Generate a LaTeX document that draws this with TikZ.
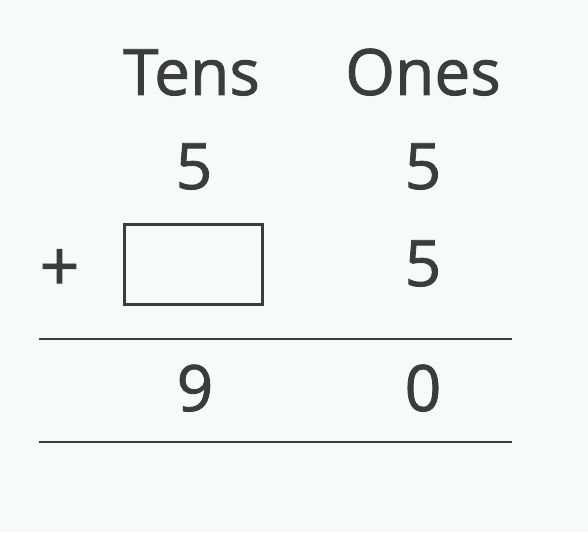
\documentclass[tikz,border=0pt]{standalone}
\usepackage{fontspec}
\setmainfont{Open Sans}
\newfontfamily\labelfont{Open Sans}[FakeBold=1.3]
\definecolor{ink}{HTML}{3C3C3C}
\definecolor{paper}{HTML}{F8FAFA}
\begin{document}
\begin{tikzpicture}[x=1pt,y=-1pt,
  lbl/.style={anchor=base,inner sep=0pt,text=ink,font=\labelfont\fontsize{64}{64}\selectfont},
  rule/.style={draw=ink,line width=2.6pt},
  answerbox/.style={draw=ink,line width=3.2pt,minimum width=138pt,minimum height=80pt,inner sep=0pt}]
\fill[paper] (0,0) rectangle (588,532);
\useasboundingbox (0,0) rectangle (588,532);
\node[lbl] (tens) at (191.5,95) {Tens};
\node[lbl] (ones) at (423,95) {Ones};
\node[lbl] (t1) at (194,189) {5};
\node[lbl] (o1) at (423,189) {5};
\node[lbl,font=\labelfont\fontsize{70}{70}\selectfont] (plus) at (59.5,291) {+};
\node[answerbox] (box) at (193.5,264.5) {};
\node[lbl] (o2) at (423,286) {5};
\node[lbl] (t3) at (195,411) {9};
\node[lbl] (o3) at (423,411) {0};
\coordinate (l1a) at (39,339);
\coordinate (l1b) at (512,339);
\coordinate (l2a) at (39,442);
\coordinate (l2b) at (512,442);
\draw[rule] (l1a) -- (l1b);
\draw[rule] (l2a) -- (l2b);
\end{tikzpicture}
\end{document}
